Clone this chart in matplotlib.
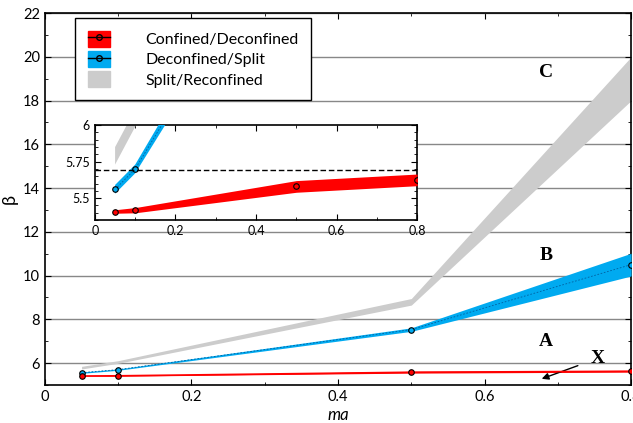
import matplotlib
matplotlib.use('Agg')
import matplotlib.pyplot as plt
import numpy as np
from matplotlib.patches import Patch
from matplotlib.lines import Line2D
from matplotlib.ticker import MultipleLocator, AutoMinorLocator

plt.rcParams['font.family'] = ['Lato', 'DejaVu Sans']

# data
ma = np.array([0.05, 0.1, 0.5, 0.8])
beta_cd = np.array([5.408, 5.417, 5.58, 5.625])     # Confined/Deconfined
err_cd = np.array([0.012, 0.018, 0.04, 0.04])
beta_ds = np.array([5.56, 5.70, 7.53, 10.5])        # Deconfined/Split
err_ds = np.array([0.03, 0.03, 0.08, 0.52])
beta_sr = np.array([5.79, 6.05, 8.8, 19.0])         # Split/Reconfined
err_sr = np.array([0.06, 0.06, 0.15, 1.0])
beta_line = 5.69
labels = ['Confined/Deconfined', 'Deconfined/Split', 'Split/Reconfined']
regions = ['A', 'B', 'C']
region_pos = [(0.683, 7.0), (0.684, 10.9), (0.684, 19.3)]

RED = '#ff0000'
BLUE = '#00aaf0'
GRAY = '#cccccc'


def draw(ax, lw_red):
    ax.fill_between(ma, beta_sr - err_sr, beta_sr + err_sr, color=GRAY, lw=0, zorder=2)
    ax.fill_between(ma, beta_ds - err_ds, beta_ds + err_ds, color=BLUE, lw=0, zorder=3)
    ax.plot(ma, beta_ds, ls=(0, (2, 2)), color='#0060a0', lw=0.6, zorder=4)
    ax.plot(ma, beta_ds, 'o', ms=4, mfc=BLUE, mec='black', mew=0.8, zorder=5)
    ax.fill_between(ma, beta_cd - err_cd, beta_cd + err_cd, color=RED, lw=0, zorder=3)
    ax.plot(ma, beta_cd, '-', color=RED, lw=lw_red, zorder=4)
    ax.plot(ma, beta_cd, 'o', ms=4, mfc=RED, mec='black', mew=0.8, zorder=5)


def style(ax, size):
    ax.tick_params(which='both', direction='in', top=True, right=True, labelsize=size)
    ax.tick_params(which='major', length=4)
    ax.tick_params(which='minor', length=2)
    ax.xaxis.set_minor_locator(AutoMinorLocator(2))
    ax.yaxis.set_minor_locator(AutoMinorLocator(2))
    ax.xaxis.set_major_formatter(plt.FuncFormatter(lambda v, p: '0' if v == 0 else f'{v:g}'))


fig = plt.figure(figsize=(6.33, 4.23), dpi=100)
ax = fig.add_axes([0.071, 0.09, 0.926, 0.879])
draw(ax, 1.2)
ax.set_xlim(0, 0.8)
ax.set_ylim(5, 22)
ax.yaxis.set_major_locator(MultipleLocator(2))
ax.xaxis.set_major_locator(MultipleLocator(0.2))
style(ax, 10.5)
ax.yaxis.grid(True, color='#888888', lw=1)
ax.set_axisbelow(True)
for s in ax.spines.values():
    s.set_linewidth(1.2)
ax.set_xlabel('ma', fontstyle='italic', fontsize=12, labelpad=2)
ax.set_ylabel('β', fontsize=13, labelpad=4)

for t, (x, y) in zip(regions, region_pos):
    ax.text(x, y, t, fontsize=14, fontweight='bold', family='Liberation Serif', ha='center', va='center')
ax.annotate('X', xy=(0.678, 5.28), xytext=(0.755, 6.22), fontsize=14, fontweight='bold',
            family='Liberation Serif', ha='center', va='center',
            arrowprops=dict(arrowstyle='-|>', color='black', lw=1, shrinkA=8, shrinkB=0,
                            mutation_scale=10))

handles = [
    (Patch(color=RED), Line2D([], [], color='black', lw=1, marker='o', ms=4, mfc='none', mec='black')),
    (Patch(color=BLUE), Line2D([], [], color='black', lw=1, marker='o', ms=4, mfc='none', mec='black')),
    Patch(color=GRAY),
]
leg = ax.legend(handles, labels, loc='upper left', bbox_to_anchor=(0.051, 0.987), borderaxespad=0,
                fontsize=11.5, frameon=True, fancybox=False, edgecolor='black', framealpha=1,
                handlelength=1.4, handleheight=1.15, handletextpad=2.2, labelspacing=0.25,
                borderpad=0.8)
leg.get_frame().set_linewidth(1)

ins = fig.add_axes([0.150, 0.480, 0.509, 0.224])
draw(ins, 0.8)
ins.axhline(beta_line, color='black', ls=(0, (4, 2)), lw=1, zorder=6)
ins.set_xlim(0, 0.8)
ins.set_ylim(5.35, 6)
ins.set_yticks([5.5, 5.75, 6])
ins.set_yticklabels(['5.5', '5.75', '6'])
ins.xaxis.set_major_locator(MultipleLocator(0.2))
style(ins, 9)
ins.yaxis.set_minor_locator(AutoMinorLocator(5))
for s in ins.spines.values():
    s.set_linewidth(1.2)

fig.savefig('out.png', dpi=100)
